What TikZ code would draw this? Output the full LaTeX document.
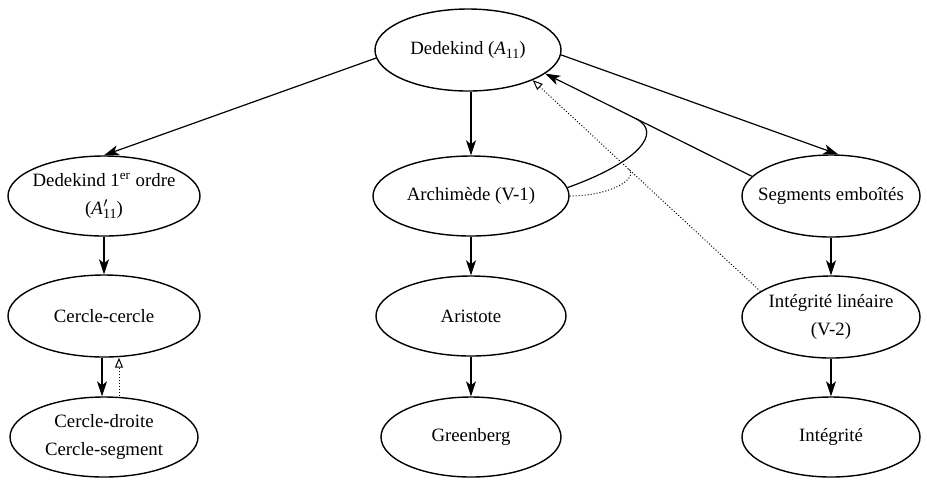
\documentclass[tikz,border=0pt]{standalone}
\usepackage{fontspec}
\setmainfont{Liberation Serif}
\usetikzlibrary{arrows.meta,calc,shapes.geometric}
\begin{document}
\begin{tikzpicture}[x=0.5pt,y=-0.5pt,
  box/.style={ellipse,draw,line width=0.7pt,inner xsep=-10pt,inner ysep=0pt,align=center,
    font=\fontsize{9.4}{14}\selectfont},
  arr/.style={line width=0.6pt,-{Stealth[length=7.5pt,width=5pt,inset=2pt]}},
  darr/.style={line width=0.5pt,densely dotted,-{Triangle[open,length=5pt,width=4pt]}},
  dline/.style={line width=0.5pt,densely dotted},
  sline/.style={line width=0.6pt}]
\useasboundingbox (0,0) rectangle (927,479);
\node[box,minimum width=93pt,minimum height=41pt] (ded) at (468,50)
  {Dedekind (\textit{A}\raisebox{-0.45ex}{\scriptsize 11})};
\node[box,minimum width=96pt,minimum height=40pt] (d1) at (104,196)
  {Dedekind 1\textsuperscript{er} ordre\\(\textit{A}\rlap{$'$}\raisebox{-0.45ex}{\scriptsize 11})};
\node[box,minimum width=98pt,minimum height=40pt] (arch) at (471,196) {Archimède (V-1)};
\node[box,minimum width=89pt,minimum height=41pt] (seg) at (831,196) {Segments emboîtés};
\node[box,minimum width=96pt,minimum height=41pt] (cc) at (104,316) {Cercle-cercle};
\node[box,minimum width=95pt,minimum height=40pt] (ari) at (471,316) {Aristote};
\node[box,minimum width=89pt,minimum height=41pt] (intl) at (831,317) {Intégrité linéaire\\(V-2)};
\node[box,minimum width=94pt,minimum height=40pt] (cd) at (104,437) {Cercle-droite\\Cercle-segment};
\node[box,minimum width=90pt,minimum height=40pt] (green) at (471,437) {Greenberg};
\node[box,minimum width=89pt,minimum height=40pt] (int) at (831,437) {Intégrité};
%
\draw[arr] (ded.185) -- (d1.north);
\draw[arr] (ded.south -| arch.north) -- (arch.north);
\draw[arr] (ded.357) -- (seg.80);
\draw[arr] (seg.166) -- (ded.343);
\coordinate (m1) at ($(seg.166)!0.56!(ded.343)$);
\draw[sline] (arch.5) .. controls +(70,-25) and +(27,14) .. (m1);
\draw[darr] (intl.160) -- (ded.335);
\coordinate (m2) at ($(intl.160)!0.58!(ded.335)$);
\draw[dline] (arch.east) .. controls +(40,0) and +(11,10) .. (m2);
\draw[arr] (d1.south) -- (cc.north);
\draw[arr] ([xshift=-1pt]cc.south) -- ([xshift=-1pt]cc.south |- cd.north);
\draw[darr] ([xshift=7.5pt]cd.north) -- ([xshift=7.5pt]cc.south);
\draw[arr] (arch.south) -- (ari.north);
\draw[arr] (ari.south) -- (green.north);
\draw[arr] (seg.south) -- (intl.north);
\draw[arr] (intl.south) -- (int.north);
\end{tikzpicture}
\end{document}
